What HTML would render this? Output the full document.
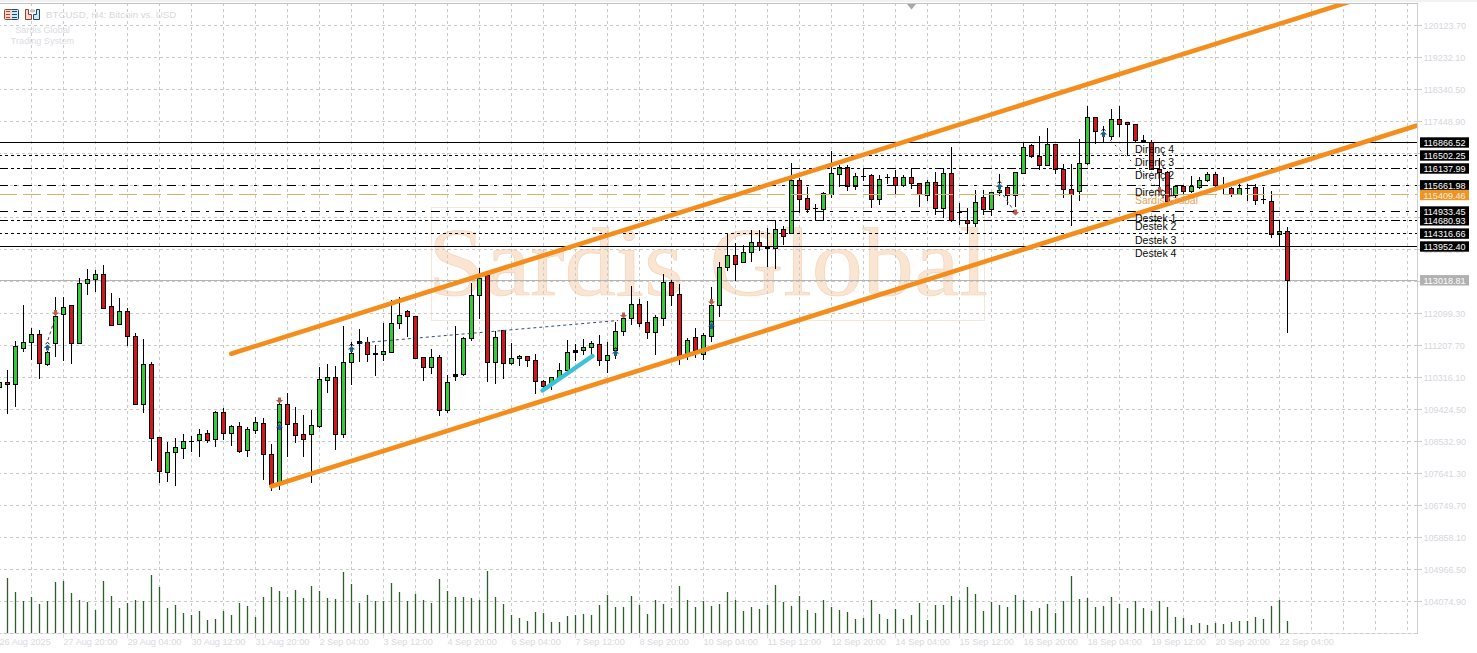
<!DOCTYPE html>
<html><head><meta charset="utf-8"><title>BTCUSD H4</title>
<style>html,body{margin:0;padding:0;background:#fff;width:1477px;height:653px;overflow:hidden;position:relative}</style>
</head><body>
<svg width="1477" height="653" viewBox="0 0 1477 653" style="position:absolute;left:0;top:0"><rect x="0" y="0" width="1477" height="653" fill="#ffffff"/><rect x="0" y="0" width="1477" height="2" fill="#f2f2f2"/><rect x="431.5" y="207.5" width="553" height="113" fill="none" stroke="#f3e6dc" stroke-width="1" shape-rendering="crispEdges"/><text transform="translate(428,294.5) scale(1.055,1)" x="0" y="0" font-family="Liberation Serif" font-size="97" fill="#fae5d3" stroke="#f5d2b4" stroke-width="0.6">Sardis Global</text><path d="M0 633.5H1417" stroke="#e6e6e6" stroke-width="1" shape-rendering="crispEdges"/><path d="M31.5 4V633 M63.5 4V633 M95.5 4V633 M127.5 4V633 M159.5 4V633 M191.5 4V633 M223.5 4V633 M255.5 4V633 M287.5 4V633 M319.5 4V633 M351.5 4V633 M383.5 4V633 M415.5 4V633 M447.5 4V633 M479.5 4V633 M511.5 4V633 M543.5 4V633 M575.5 4V633 M607.5 4V633 M639.5 4V633 M671.5 4V633 M703.5 4V633 M735.5 4V633 M767.5 4V633 M799.5 4V633 M831.5 4V633 M863.5 4V633 M895.5 4V633 M927.5 4V633 M959.5 4V633 M991.5 4V633 M1023.5 4V633 M1055.5 4V633 M1087.5 4V633 M1119.5 4V633 M1151.5 4V633 M1183.5 4V633 M1215.5 4V633 M1247.5 4V633 M1279.5 4V633 M1311.5 4V633 M1343.5 4V633 M1375.5 4V633 M1407.5 4V633" stroke="#cacaca" stroke-width="1" stroke-dasharray="3 3" stroke-dashoffset="1" fill="none" shape-rendering="crispEdges"/><path d="M0 25.5H1417 M0 57.5H1417 M0 89.5H1417 M0 121.5H1417 M0 153.5H1417 M0 185.5H1417 M0 217.5H1417 M0 249.5H1417 M0 281.5H1417 M0 313.5H1417 M0 345.5H1417 M0 377.5H1417 M0 409.5H1417 M0 441.5H1417 M0 473.5H1417 M0 505.5H1417 M0 537.5H1417 M0 569.5H1417 M0 601.5H1417 M0 633.5H1417" stroke="#cacaca" stroke-width="1" stroke-dasharray="3 3" stroke-dashoffset="2" fill="none" shape-rendering="crispEdges"/><path d="M0 3.5H1417.5V633.5" stroke="#d0d0d0" stroke-width="1" fill="none" shape-rendering="crispEdges"/><path d="M0 280.5H1417" stroke="#b4b4b4" stroke-width="1" shape-rendering="crispEdges"/><path d="M7.5 578V633 M15.5 592V633 M23.5 601V633 M31.5 597V633 M39.5 604V633 M47.5 601V633 M55.5 582V633 M63.5 581V633 M71.5 593V633 M79.5 600V633 M87.5 602V633 M95.5 610V633 M103.5 581V633 M111.5 596V633 M119.5 608V633 M127.5 603V633 M135.5 600V633 M143.5 601V633 M151.5 575V633 M159.5 587V633 M167.5 608V633 M175.5 605V633 M183.5 613V633 M191.5 615V633 M199.5 611V633 M207.5 620V633 M215.5 619V633 M223.5 611V633 M231.5 615V633 M239.5 603V633 M247.5 606V633 M255.5 617V633 M263.5 597V633 M271.5 587V633 M279.5 591V633 M287.5 597V633 M295.5 590V633 M303.5 598V633 M311.5 586V633 M319.5 591V633 M327.5 598V633 M335.5 599V633 M343.5 572V633 M351.5 584V633 M359.5 603V633 M367.5 595V633 M375.5 601V633 M383.5 601V633 M391.5 583V633 M399.5 592V633 M407.5 601V633 M415.5 594V633 M423.5 600V633 M431.5 603V633 M439.5 579V633 M447.5 591V633 M455.5 597V633 M463.5 597V633 M471.5 598V633 M479.5 600V633 M487.5 571V633 M495.5 597V633 M503.5 604V633 M511.5 615V633 M519.5 618V633 M527.5 621V633 M535.5 612V633 M543.5 613V633 M551.5 622V633 M559.5 622V633 M567.5 616V633 M575.5 615V633 M583.5 614V633 M591.5 615V633 M599.5 605V633 M607.5 595V633 M615.5 607V633 M623.5 607V633 M631.5 596V633 M639.5 605V633 M647.5 614V633 M655.5 600V633 M663.5 604V633 M671.5 608V633 M679.5 586V633 M687.5 600V633 M695.5 607V633 M703.5 601V633 M711.5 606V633 M719.5 604V633 M727.5 592V633 M735.5 600V633 M743.5 611V633 M751.5 607V633 M759.5 609V633 M767.5 605V633 M775.5 585V633 M783.5 602V633 M791.5 606V633 M799.5 596V633 M807.5 610V633 M815.5 613V633 M823.5 600V633 M831.5 607V633 M839.5 610V633 M847.5 612V633 M855.5 619V633 M863.5 618V633 M871.5 600V633 M879.5 614V633 M887.5 619V633 M895.5 609V633 M903.5 619V633 M911.5 615V633 M919.5 603V633 M927.5 620V633 M935.5 605V633 M943.5 605V633 M951.5 596V633 M959.5 600V633 M967.5 587V633 M975.5 594V633 M983.5 611V633 M991.5 602V633 M999.5 605V633 M1007.5 607V633 M1015.5 595V633 M1023.5 600V633 M1031.5 611V633 M1039.5 608V633 M1047.5 604V633 M1055.5 613V633 M1063.5 601V633 M1071.5 576V633 M1079.5 599V633 M1087.5 598V633 M1095.5 607V633 M1103.5 606V633 M1111.5 597V633 M1119.5 604V633 M1127.5 608V633 M1135.5 601V633 M1143.5 608V633 M1151.5 611V633 M1159.5 601V633 M1167.5 607V633 M1175.5 617V633 M1183.5 618V633 M1191.5 625V633 M1199.5 623V633 M1207.5 625V633 M1215.5 623V633 M1223.5 624V633 M1231.5 622V633 M1239.5 621V633 M1247.5 621V633 M1255.5 617V633 M1263.5 619V633 M1271.5 606V633 M1279.5 600V633 M1287.5 621V633" stroke="#2a5e2a" stroke-width="1.3" fill="none"/><g shape-rendering="crispEdges"><rect x="-1" y="378" width="1" height="15" fill="#000"/><rect x="-3" y="382" width="5" height="6" fill="#000"/><rect x="-2" y="383" width="3" height="4" fill="#32cd32"/><rect x="7" y="370" width="1" height="44" fill="#000"/><rect x="5" y="382" width="5" height="3" fill="#000"/><rect x="6" y="383" width="3" height="1" fill="#d4161c"/><rect x="15" y="341" width="1" height="66" fill="#000"/><rect x="13" y="346" width="5" height="39" fill="#000"/><rect x="14" y="347" width="3" height="37" fill="#32cd32"/><rect x="23" y="305" width="1" height="47" fill="#000"/><rect x="21" y="342" width="5" height="7" fill="#000"/><rect x="22" y="343" width="3" height="5" fill="#32cd32"/><rect x="31" y="328" width="1" height="32" fill="#000"/><rect x="29" y="334" width="5" height="9" fill="#000"/><rect x="30" y="335" width="3" height="7" fill="#32cd32"/><rect x="39" y="330" width="1" height="49" fill="#000"/><rect x="37" y="334" width="5" height="30" fill="#000"/><rect x="38" y="335" width="3" height="28" fill="#d4161c"/><rect x="47" y="351" width="1" height="15" fill="#000"/><rect x="45" y="352" width="5" height="13" fill="#000"/><rect x="46" y="353" width="3" height="11" fill="#32cd32"/><rect x="55" y="297" width="1" height="60" fill="#000"/><rect x="53" y="316" width="5" height="28" fill="#000"/><rect x="54" y="317" width="3" height="26" fill="#32cd32"/><rect x="63" y="297" width="1" height="64" fill="#000"/><rect x="61" y="307" width="5" height="8" fill="#000"/><rect x="62" y="308" width="3" height="6" fill="#32cd32"/><rect x="71" y="305" width="1" height="59" fill="#000"/><rect x="69" y="305" width="5" height="39" fill="#000"/><rect x="70" y="306" width="3" height="37" fill="#d4161c"/><rect x="79" y="278" width="1" height="66" fill="#000"/><rect x="77" y="283" width="5" height="61" fill="#000"/><rect x="78" y="284" width="3" height="59" fill="#32cd32"/><rect x="87" y="269" width="1" height="26" fill="#000"/><rect x="85" y="279" width="5" height="5" fill="#000"/><rect x="86" y="280" width="3" height="3" fill="#32cd32"/><rect x="95" y="270" width="1" height="22" fill="#000"/><rect x="93" y="274" width="5" height="6" fill="#000"/><rect x="94" y="275" width="3" height="4" fill="#32cd32"/><rect x="103" y="265" width="1" height="44" fill="#000"/><rect x="101" y="274" width="5" height="35" fill="#000"/><rect x="102" y="275" width="3" height="33" fill="#d4161c"/><rect x="111" y="293" width="1" height="33" fill="#000"/><rect x="109" y="306" width="5" height="20" fill="#000"/><rect x="110" y="307" width="3" height="18" fill="#d4161c"/><rect x="119" y="298" width="1" height="27" fill="#000"/><rect x="117" y="311" width="5" height="14" fill="#000"/><rect x="118" y="312" width="3" height="12" fill="#32cd32"/><rect x="127" y="308" width="1" height="38" fill="#000"/><rect x="125" y="311" width="5" height="26" fill="#000"/><rect x="126" y="312" width="3" height="24" fill="#d4161c"/><rect x="135" y="333" width="1" height="72" fill="#000"/><rect x="133" y="336" width="5" height="69" fill="#000"/><rect x="134" y="337" width="3" height="67" fill="#d4161c"/><rect x="143" y="339" width="1" height="74" fill="#000"/><rect x="141" y="364" width="5" height="41" fill="#000"/><rect x="142" y="365" width="3" height="39" fill="#32cd32"/><rect x="151" y="362" width="1" height="99" fill="#000"/><rect x="149" y="364" width="5" height="75" fill="#000"/><rect x="150" y="365" width="3" height="73" fill="#d4161c"/><rect x="159" y="437" width="1" height="46" fill="#000"/><rect x="157" y="437" width="5" height="35" fill="#000"/><rect x="158" y="438" width="3" height="33" fill="#d4161c"/><rect x="167" y="442" width="1" height="40" fill="#000"/><rect x="165" y="452" width="5" height="21" fill="#000"/><rect x="166" y="453" width="3" height="19" fill="#32cd32"/><rect x="175" y="438" width="1" height="48" fill="#000"/><rect x="173" y="447" width="5" height="6" fill="#000"/><rect x="174" y="448" width="3" height="4" fill="#32cd32"/><rect x="183" y="434" width="1" height="25" fill="#000"/><rect x="181" y="441" width="5" height="8" fill="#000"/><rect x="182" y="442" width="3" height="6" fill="#32cd32"/><rect x="191" y="436" width="1" height="16" fill="#000"/><rect x="189" y="441" width="5" height="1" fill="#000"/><rect x="199" y="429" width="1" height="28" fill="#000"/><rect x="197" y="434" width="5" height="7" fill="#000"/><rect x="198" y="435" width="3" height="5" fill="#32cd32"/><rect x="207" y="430" width="1" height="13" fill="#000"/><rect x="205" y="433" width="5" height="8" fill="#000"/><rect x="206" y="434" width="3" height="6" fill="#d4161c"/><rect x="215" y="411" width="1" height="36" fill="#000"/><rect x="213" y="412" width="5" height="28" fill="#000"/><rect x="214" y="413" width="3" height="26" fill="#32cd32"/><rect x="223" y="408" width="1" height="32" fill="#000"/><rect x="221" y="412" width="5" height="22" fill="#000"/><rect x="222" y="413" width="3" height="20" fill="#d4161c"/><rect x="231" y="425" width="1" height="21" fill="#000"/><rect x="229" y="426" width="5" height="8" fill="#000"/><rect x="230" y="427" width="3" height="6" fill="#32cd32"/><rect x="239" y="422" width="1" height="31" fill="#000"/><rect x="237" y="426" width="5" height="26" fill="#000"/><rect x="238" y="427" width="3" height="24" fill="#d4161c"/><rect x="247" y="427" width="1" height="30" fill="#000"/><rect x="245" y="429" width="5" height="22" fill="#000"/><rect x="246" y="430" width="3" height="20" fill="#32cd32"/><rect x="255" y="417" width="1" height="17" fill="#000"/><rect x="253" y="422" width="5" height="9" fill="#000"/><rect x="254" y="423" width="3" height="7" fill="#32cd32"/><rect x="263" y="418" width="1" height="62" fill="#000"/><rect x="261" y="423" width="5" height="32" fill="#000"/><rect x="262" y="424" width="3" height="30" fill="#d4161c"/><rect x="271" y="444" width="1" height="47" fill="#000"/><rect x="269" y="454" width="5" height="31" fill="#000"/><rect x="270" y="455" width="3" height="29" fill="#d4161c"/><rect x="279" y="398" width="1" height="92" fill="#000"/><rect x="277" y="404" width="5" height="79" fill="#000"/><rect x="278" y="405" width="3" height="77" fill="#32cd32"/><rect x="287" y="393" width="1" height="64" fill="#000"/><rect x="285" y="404" width="5" height="21" fill="#000"/><rect x="286" y="405" width="3" height="19" fill="#d4161c"/><rect x="295" y="407" width="1" height="36" fill="#000"/><rect x="293" y="423" width="5" height="13" fill="#000"/><rect x="294" y="424" width="3" height="11" fill="#d4161c"/><rect x="303" y="415" width="1" height="42" fill="#000"/><rect x="301" y="434" width="5" height="6" fill="#000"/><rect x="302" y="435" width="3" height="4" fill="#d4161c"/><rect x="311" y="410" width="1" height="73" fill="#000"/><rect x="309" y="425" width="5" height="10" fill="#000"/><rect x="310" y="426" width="3" height="8" fill="#32cd32"/><rect x="319" y="367" width="1" height="61" fill="#000"/><rect x="317" y="379" width="5" height="48" fill="#000"/><rect x="318" y="380" width="3" height="46" fill="#32cd32"/><rect x="327" y="364" width="1" height="29" fill="#000"/><rect x="325" y="377" width="5" height="4" fill="#000"/><rect x="326" y="378" width="3" height="2" fill="#32cd32"/><rect x="335" y="366" width="1" height="84" fill="#000"/><rect x="333" y="377" width="5" height="58" fill="#000"/><rect x="334" y="378" width="3" height="56" fill="#d4161c"/><rect x="343" y="326" width="1" height="112" fill="#000"/><rect x="341" y="362" width="5" height="73" fill="#000"/><rect x="342" y="363" width="3" height="71" fill="#32cd32"/><rect x="351" y="342" width="1" height="43" fill="#000"/><rect x="349" y="353" width="5" height="10" fill="#000"/><rect x="350" y="354" width="3" height="8" fill="#32cd32"/><rect x="359" y="329" width="1" height="33" fill="#000"/><rect x="357" y="341" width="5" height="3" fill="#000"/><rect x="367" y="337" width="1" height="25" fill="#000"/><rect x="365" y="342" width="5" height="13" fill="#000"/><rect x="366" y="343" width="3" height="11" fill="#d4161c"/><rect x="375" y="345" width="1" height="31" fill="#000"/><rect x="373" y="353" width="5" height="2" fill="#000"/><rect x="383" y="323" width="1" height="38" fill="#000"/><rect x="381" y="351" width="5" height="4" fill="#000"/><rect x="382" y="352" width="3" height="2" fill="#32cd32"/><rect x="391" y="300" width="1" height="53" fill="#000"/><rect x="389" y="323" width="5" height="30" fill="#000"/><rect x="390" y="324" width="3" height="28" fill="#32cd32"/><rect x="399" y="297" width="1" height="32" fill="#000"/><rect x="397" y="315" width="5" height="9" fill="#000"/><rect x="398" y="316" width="3" height="7" fill="#32cd32"/><rect x="407" y="310" width="1" height="27" fill="#000"/><rect x="405" y="311" width="5" height="6" fill="#000"/><rect x="406" y="312" width="3" height="4" fill="#d4161c"/><rect x="415" y="316" width="1" height="43" fill="#000"/><rect x="413" y="316" width="5" height="43" fill="#000"/><rect x="414" y="317" width="3" height="41" fill="#d4161c"/><rect x="423" y="357" width="1" height="24" fill="#000"/><rect x="421" y="357" width="5" height="11" fill="#000"/><rect x="422" y="358" width="3" height="9" fill="#d4161c"/><rect x="431" y="349" width="1" height="25" fill="#000"/><rect x="429" y="357" width="5" height="11" fill="#000"/><rect x="430" y="358" width="3" height="9" fill="#32cd32"/><rect x="439" y="355" width="1" height="61" fill="#000"/><rect x="437" y="357" width="5" height="54" fill="#000"/><rect x="438" y="358" width="3" height="52" fill="#d4161c"/><rect x="447" y="375" width="1" height="38" fill="#000"/><rect x="445" y="382" width="5" height="29" fill="#000"/><rect x="446" y="383" width="3" height="27" fill="#32cd32"/><rect x="455" y="326" width="1" height="55" fill="#000"/><rect x="453" y="374" width="5" height="3" fill="#000"/><rect x="463" y="337" width="1" height="39" fill="#000"/><rect x="461" y="338" width="5" height="37" fill="#000"/><rect x="462" y="339" width="3" height="35" fill="#32cd32"/><rect x="471" y="283" width="1" height="58" fill="#000"/><rect x="469" y="295" width="5" height="44" fill="#000"/><rect x="470" y="296" width="3" height="42" fill="#32cd32"/><rect x="479" y="268" width="1" height="51" fill="#000"/><rect x="477" y="278" width="5" height="18" fill="#000"/><rect x="478" y="279" width="3" height="16" fill="#32cd32"/><rect x="487" y="274" width="1" height="108" fill="#000"/><rect x="485" y="275" width="5" height="88" fill="#000"/><rect x="486" y="276" width="3" height="86" fill="#d4161c"/><rect x="495" y="331" width="1" height="53" fill="#000"/><rect x="493" y="337" width="5" height="26" fill="#000"/><rect x="494" y="338" width="3" height="24" fill="#32cd32"/><rect x="503" y="330" width="1" height="49" fill="#000"/><rect x="501" y="330" width="5" height="34" fill="#000"/><rect x="502" y="331" width="3" height="32" fill="#d4161c"/><rect x="511" y="343" width="1" height="22" fill="#000"/><rect x="509" y="358" width="5" height="6" fill="#000"/><rect x="510" y="359" width="3" height="4" fill="#32cd32"/><rect x="519" y="355" width="1" height="11" fill="#000"/><rect x="517" y="356" width="5" height="3" fill="#000"/><rect x="518" y="357" width="3" height="1" fill="#32cd32"/><rect x="527" y="356" width="1" height="11" fill="#000"/><rect x="525" y="356" width="5" height="5" fill="#000"/><rect x="526" y="357" width="3" height="3" fill="#d4161c"/><rect x="535" y="354" width="1" height="40" fill="#000"/><rect x="533" y="360" width="5" height="22" fill="#000"/><rect x="534" y="361" width="3" height="20" fill="#d4161c"/><rect x="543" y="380" width="1" height="8" fill="#000"/><rect x="541" y="381" width="5" height="6" fill="#000"/><rect x="542" y="382" width="3" height="4" fill="#d4161c"/><rect x="551" y="377" width="1" height="13" fill="#000"/><rect x="549" y="377" width="5" height="7" fill="#000"/><rect x="550" y="378" width="3" height="5" fill="#32cd32"/><rect x="559" y="363" width="1" height="15" fill="#000"/><rect x="557" y="370" width="5" height="8" fill="#000"/><rect x="558" y="371" width="3" height="6" fill="#32cd32"/><rect x="567" y="340" width="1" height="31" fill="#000"/><rect x="565" y="352" width="5" height="19" fill="#000"/><rect x="566" y="353" width="3" height="17" fill="#32cd32"/><rect x="575" y="344" width="1" height="17" fill="#000"/><rect x="573" y="350" width="5" height="3" fill="#000"/><rect x="583" y="339" width="1" height="16" fill="#000"/><rect x="581" y="347" width="5" height="4" fill="#000"/><rect x="582" y="348" width="3" height="2" fill="#32cd32"/><rect x="591" y="341" width="1" height="14" fill="#000"/><rect x="589" y="343" width="5" height="5" fill="#000"/><rect x="590" y="344" width="3" height="3" fill="#32cd32"/><rect x="599" y="335" width="1" height="31" fill="#000"/><rect x="597" y="344" width="5" height="17" fill="#000"/><rect x="598" y="345" width="3" height="15" fill="#d4161c"/><rect x="607" y="342" width="1" height="31" fill="#000"/><rect x="605" y="355" width="5" height="6" fill="#000"/><rect x="606" y="356" width="3" height="4" fill="#32cd32"/><rect x="615" y="322" width="1" height="37" fill="#000"/><rect x="613" y="331" width="5" height="20" fill="#000"/><rect x="614" y="332" width="3" height="18" fill="#32cd32"/><rect x="623" y="318" width="1" height="18" fill="#000"/><rect x="621" y="318" width="5" height="14" fill="#000"/><rect x="622" y="319" width="3" height="12" fill="#32cd32"/><rect x="631" y="286" width="1" height="39" fill="#000"/><rect x="629" y="304" width="5" height="15" fill="#000"/><rect x="630" y="305" width="3" height="13" fill="#32cd32"/><rect x="639" y="299" width="1" height="28" fill="#000"/><rect x="637" y="304" width="5" height="20" fill="#000"/><rect x="638" y="305" width="3" height="18" fill="#d4161c"/><rect x="647" y="301" width="1" height="38" fill="#000"/><rect x="645" y="322" width="5" height="11" fill="#000"/><rect x="646" y="323" width="3" height="9" fill="#d4161c"/><rect x="655" y="315" width="1" height="40" fill="#000"/><rect x="653" y="317" width="5" height="16" fill="#000"/><rect x="654" y="318" width="3" height="14" fill="#32cd32"/><rect x="663" y="274" width="1" height="52" fill="#000"/><rect x="661" y="282" width="5" height="37" fill="#000"/><rect x="662" y="283" width="3" height="35" fill="#32cd32"/><rect x="671" y="280" width="1" height="26" fill="#000"/><rect x="669" y="282" width="5" height="14" fill="#000"/><rect x="670" y="283" width="3" height="12" fill="#d4161c"/><rect x="679" y="284" width="1" height="81" fill="#000"/><rect x="677" y="294" width="5" height="63" fill="#000"/><rect x="678" y="295" width="3" height="61" fill="#d4161c"/><rect x="687" y="338" width="1" height="22" fill="#000"/><rect x="685" y="340" width="5" height="14" fill="#000"/><rect x="686" y="341" width="3" height="12" fill="#32cd32"/><rect x="695" y="328" width="1" height="30" fill="#000"/><rect x="693" y="337" width="5" height="14" fill="#000"/><rect x="694" y="338" width="3" height="12" fill="#d4161c"/><rect x="703" y="333" width="1" height="27" fill="#000"/><rect x="701" y="335" width="5" height="20" fill="#000"/><rect x="702" y="336" width="3" height="18" fill="#32cd32"/><rect x="711" y="287" width="1" height="55" fill="#000"/><rect x="709" y="305" width="5" height="32" fill="#000"/><rect x="710" y="306" width="3" height="30" fill="#32cd32"/><rect x="719" y="262" width="1" height="55" fill="#000"/><rect x="717" y="267" width="5" height="39" fill="#000"/><rect x="718" y="268" width="3" height="37" fill="#32cd32"/><rect x="727" y="234" width="1" height="37" fill="#000"/><rect x="725" y="255" width="5" height="13" fill="#000"/><rect x="726" y="256" width="3" height="11" fill="#32cd32"/><rect x="735" y="243" width="1" height="38" fill="#000"/><rect x="733" y="255" width="5" height="10" fill="#000"/><rect x="734" y="256" width="3" height="8" fill="#d4161c"/><rect x="743" y="245" width="1" height="18" fill="#000"/><rect x="741" y="252" width="5" height="11" fill="#000"/><rect x="742" y="253" width="3" height="9" fill="#32cd32"/><rect x="751" y="230" width="1" height="32" fill="#000"/><rect x="749" y="242" width="5" height="11" fill="#000"/><rect x="750" y="243" width="3" height="9" fill="#32cd32"/><rect x="759" y="230" width="1" height="21" fill="#000"/><rect x="757" y="242" width="5" height="5" fill="#000"/><rect x="758" y="243" width="3" height="3" fill="#d4161c"/><rect x="767" y="228" width="1" height="39" fill="#000"/><rect x="765" y="246" width="5" height="3" fill="#000"/><rect x="775" y="221" width="1" height="48" fill="#000"/><rect x="773" y="229" width="5" height="20" fill="#000"/><rect x="774" y="230" width="3" height="18" fill="#32cd32"/><rect x="783" y="226" width="1" height="19" fill="#000"/><rect x="781" y="229" width="5" height="8" fill="#000"/><rect x="782" y="230" width="3" height="6" fill="#d4161c"/><rect x="791" y="163" width="1" height="71" fill="#000"/><rect x="789" y="180" width="5" height="54" fill="#000"/><rect x="790" y="181" width="3" height="52" fill="#32cd32"/><rect x="799" y="178" width="1" height="35" fill="#000"/><rect x="797" y="180" width="5" height="20" fill="#000"/><rect x="798" y="181" width="3" height="18" fill="#d4161c"/><rect x="807" y="187" width="1" height="26" fill="#000"/><rect x="805" y="198" width="5" height="12" fill="#000"/><rect x="806" y="199" width="3" height="10" fill="#d4161c"/><rect x="815" y="204" width="1" height="17" fill="#000"/><rect x="813" y="208" width="5" height="1" fill="#000"/><rect x="823" y="192" width="1" height="28" fill="#000"/><rect x="821" y="193" width="5" height="17" fill="#000"/><rect x="822" y="194" width="3" height="15" fill="#32cd32"/><rect x="831" y="151" width="1" height="47" fill="#000"/><rect x="829" y="173" width="5" height="22" fill="#000"/><rect x="830" y="174" width="3" height="20" fill="#32cd32"/><rect x="839" y="165" width="1" height="22" fill="#000"/><rect x="837" y="167" width="5" height="8" fill="#000"/><rect x="838" y="168" width="3" height="6" fill="#32cd32"/><rect x="847" y="165" width="1" height="26" fill="#000"/><rect x="845" y="167" width="5" height="20" fill="#000"/><rect x="846" y="168" width="3" height="18" fill="#d4161c"/><rect x="855" y="173" width="1" height="17" fill="#000"/><rect x="853" y="176" width="5" height="11" fill="#000"/><rect x="854" y="177" width="3" height="9" fill="#32cd32"/><rect x="863" y="169" width="1" height="12" fill="#000"/><rect x="861" y="176" width="5" height="1" fill="#000"/><rect x="871" y="174" width="1" height="34" fill="#000"/><rect x="869" y="175" width="5" height="25" fill="#000"/><rect x="870" y="176" width="3" height="23" fill="#d4161c"/><rect x="879" y="175" width="1" height="30" fill="#000"/><rect x="877" y="179" width="5" height="21" fill="#000"/><rect x="878" y="180" width="3" height="19" fill="#32cd32"/><rect x="887" y="174" width="1" height="10" fill="#000"/><rect x="885" y="177" width="5" height="1" fill="#000"/><rect x="895" y="170" width="1" height="25" fill="#000"/><rect x="893" y="177" width="5" height="9" fill="#000"/><rect x="894" y="178" width="3" height="7" fill="#d4161c"/><rect x="903" y="175" width="1" height="12" fill="#000"/><rect x="901" y="177" width="5" height="9" fill="#000"/><rect x="902" y="178" width="3" height="7" fill="#32cd32"/><rect x="911" y="169" width="1" height="20" fill="#000"/><rect x="909" y="177" width="5" height="7" fill="#000"/><rect x="910" y="178" width="3" height="5" fill="#d4161c"/><rect x="919" y="183" width="1" height="24" fill="#000"/><rect x="917" y="183" width="5" height="12" fill="#000"/><rect x="918" y="184" width="3" height="10" fill="#d4161c"/><rect x="927" y="180" width="1" height="21" fill="#000"/><rect x="925" y="182" width="5" height="14" fill="#000"/><rect x="926" y="183" width="3" height="12" fill="#32cd32"/><rect x="935" y="172" width="1" height="43" fill="#000"/><rect x="933" y="182" width="5" height="27" fill="#000"/><rect x="934" y="183" width="3" height="25" fill="#d4161c"/><rect x="943" y="169" width="1" height="49" fill="#000"/><rect x="941" y="173" width="5" height="36" fill="#000"/><rect x="942" y="174" width="3" height="34" fill="#32cd32"/><rect x="951" y="147" width="1" height="75" fill="#000"/><rect x="949" y="173" width="5" height="48" fill="#000"/><rect x="950" y="174" width="3" height="46" fill="#d4161c"/><rect x="959" y="203" width="1" height="22" fill="#000"/><rect x="957" y="212" width="5" height="1" fill="#000"/><rect x="967" y="208" width="1" height="26" fill="#000"/><rect x="965" y="220" width="5" height="4" fill="#000"/><rect x="966" y="221" width="3" height="2" fill="#d4161c"/><rect x="975" y="190" width="1" height="37" fill="#000"/><rect x="973" y="202" width="5" height="22" fill="#000"/><rect x="974" y="203" width="3" height="20" fill="#32cd32"/><rect x="983" y="190" width="1" height="25" fill="#000"/><rect x="981" y="197" width="5" height="13" fill="#000"/><rect x="982" y="198" width="3" height="11" fill="#d4161c"/><rect x="991" y="192" width="1" height="24" fill="#000"/><rect x="989" y="192" width="5" height="18" fill="#000"/><rect x="990" y="193" width="3" height="16" fill="#32cd32"/><rect x="999" y="174" width="1" height="22" fill="#000"/><rect x="997" y="190" width="5" height="3" fill="#000"/><rect x="998" y="191" width="3" height="1" fill="#32cd32"/><rect x="1007" y="185" width="1" height="20" fill="#000"/><rect x="1005" y="187" width="5" height="9" fill="#000"/><rect x="1006" y="188" width="3" height="7" fill="#d4161c"/><rect x="1015" y="172" width="1" height="35" fill="#000"/><rect x="1013" y="172" width="5" height="24" fill="#000"/><rect x="1014" y="173" width="3" height="22" fill="#32cd32"/><rect x="1023" y="142" width="1" height="32" fill="#000"/><rect x="1021" y="147" width="5" height="27" fill="#000"/><rect x="1022" y="148" width="3" height="25" fill="#32cd32"/><rect x="1031" y="144" width="1" height="14" fill="#000"/><rect x="1029" y="145" width="5" height="12" fill="#000"/><rect x="1030" y="146" width="3" height="10" fill="#d4161c"/><rect x="1039" y="136" width="1" height="34" fill="#000"/><rect x="1037" y="156" width="5" height="10" fill="#000"/><rect x="1038" y="157" width="3" height="8" fill="#d4161c"/><rect x="1047" y="128" width="1" height="38" fill="#000"/><rect x="1045" y="144" width="5" height="22" fill="#000"/><rect x="1046" y="145" width="3" height="20" fill="#32cd32"/><rect x="1055" y="144" width="1" height="30" fill="#000"/><rect x="1053" y="144" width="5" height="26" fill="#000"/><rect x="1054" y="145" width="3" height="24" fill="#d4161c"/><rect x="1063" y="164" width="1" height="34" fill="#000"/><rect x="1061" y="169" width="5" height="21" fill="#000"/><rect x="1062" y="170" width="3" height="19" fill="#d4161c"/><rect x="1071" y="164" width="1" height="62" fill="#000"/><rect x="1069" y="189" width="5" height="6" fill="#000"/><rect x="1070" y="190" width="3" height="4" fill="#d4161c"/><rect x="1079" y="139" width="1" height="62" fill="#000"/><rect x="1077" y="163" width="5" height="29" fill="#000"/><rect x="1078" y="164" width="3" height="27" fill="#32cd32"/><rect x="1087" y="106" width="1" height="59" fill="#000"/><rect x="1085" y="117" width="5" height="47" fill="#000"/><rect x="1086" y="118" width="3" height="45" fill="#32cd32"/><rect x="1095" y="117" width="1" height="27" fill="#000"/><rect x="1093" y="117" width="5" height="15" fill="#000"/><rect x="1094" y="118" width="3" height="13" fill="#d4161c"/><rect x="1103" y="126" width="1" height="16" fill="#000"/><rect x="1101" y="133" width="5" height="1" fill="#000"/><rect x="1111" y="109" width="1" height="31" fill="#000"/><rect x="1109" y="119" width="5" height="18" fill="#000"/><rect x="1110" y="120" width="3" height="16" fill="#32cd32"/><rect x="1119" y="106" width="1" height="31" fill="#000"/><rect x="1117" y="119" width="5" height="6" fill="#000"/><rect x="1118" y="120" width="3" height="4" fill="#d4161c"/><rect x="1127" y="122" width="1" height="34" fill="#000"/><rect x="1125" y="122" width="5" height="3" fill="#000"/><rect x="1126" y="123" width="3" height="1" fill="#d4161c"/><rect x="1135" y="124" width="1" height="18" fill="#000"/><rect x="1133" y="124" width="5" height="17" fill="#000"/><rect x="1134" y="125" width="3" height="15" fill="#d4161c"/><rect x="1143" y="135" width="1" height="8" fill="#000"/><rect x="1141" y="140" width="5" height="3" fill="#000"/><rect x="1151" y="140" width="1" height="30" fill="#000"/><rect x="1149" y="142" width="5" height="28" fill="#000"/><rect x="1150" y="143" width="3" height="26" fill="#d4161c"/><rect x="1159" y="158" width="1" height="29" fill="#000"/><rect x="1157" y="169" width="5" height="4" fill="#000"/><rect x="1158" y="170" width="3" height="2" fill="#d4161c"/><rect x="1167" y="171" width="1" height="31" fill="#000"/><rect x="1165" y="172" width="5" height="30" fill="#000"/><rect x="1166" y="173" width="3" height="28" fill="#d4161c"/><rect x="1175" y="185" width="1" height="13" fill="#000"/><rect x="1173" y="186" width="5" height="10" fill="#000"/><rect x="1174" y="187" width="3" height="8" fill="#32cd32"/><rect x="1183" y="185" width="1" height="10" fill="#000"/><rect x="1181" y="186" width="5" height="6" fill="#000"/><rect x="1182" y="187" width="3" height="4" fill="#d4161c"/><rect x="1191" y="176" width="1" height="17" fill="#000"/><rect x="1189" y="186" width="5" height="6" fill="#000"/><rect x="1190" y="187" width="3" height="4" fill="#32cd32"/><rect x="1199" y="177" width="1" height="12" fill="#000"/><rect x="1197" y="180" width="5" height="8" fill="#000"/><rect x="1198" y="181" width="3" height="6" fill="#32cd32"/><rect x="1207" y="172" width="1" height="10" fill="#000"/><rect x="1205" y="174" width="5" height="7" fill="#000"/><rect x="1206" y="175" width="3" height="5" fill="#32cd32"/><rect x="1215" y="172" width="1" height="15" fill="#000"/><rect x="1213" y="174" width="5" height="12" fill="#000"/><rect x="1214" y="175" width="3" height="10" fill="#d4161c"/><rect x="1223" y="177" width="1" height="17" fill="#000"/><rect x="1221" y="185" width="5" height="1" fill="#000"/><rect x="1231" y="187" width="1" height="10" fill="#000"/><rect x="1229" y="188" width="5" height="7" fill="#000"/><rect x="1230" y="189" width="3" height="5" fill="#d4161c"/><rect x="1239" y="184" width="1" height="11" fill="#000"/><rect x="1237" y="188" width="5" height="7" fill="#000"/><rect x="1238" y="189" width="3" height="5" fill="#32cd32"/><rect x="1247" y="184" width="1" height="17" fill="#000"/><rect x="1245" y="188" width="5" height="1" fill="#000"/><rect x="1255" y="184" width="1" height="21" fill="#000"/><rect x="1253" y="187" width="5" height="14" fill="#000"/><rect x="1254" y="188" width="3" height="12" fill="#d4161c"/><rect x="1263" y="187" width="1" height="17" fill="#000"/><rect x="1261" y="199" width="5" height="1" fill="#000"/><rect x="1271" y="191" width="1" height="47" fill="#000"/><rect x="1269" y="201" width="5" height="34" fill="#000"/><rect x="1270" y="202" width="3" height="32" fill="#d4161c"/><rect x="1279" y="220" width="1" height="27" fill="#000"/><rect x="1277" y="231" width="5" height="4" fill="#000"/><rect x="1278" y="232" width="3" height="2" fill="#32cd32"/><rect x="1287" y="227" width="1" height="106" fill="#000"/><rect x="1285" y="231" width="5" height="50" fill="#000"/><rect x="1286" y="232" width="3" height="48" fill="#d4161c"/></g><path d="M0 142.5H1417" stroke="#000" stroke-width="1" shape-rendering="crispEdges"/><path d="M0 155.5H1417" stroke="#000" stroke-width="1" stroke-dasharray="3 3" stroke-dashoffset="1" shape-rendering="crispEdges"/><path d="M0 168.5H1417" stroke="#000" stroke-width="1" stroke-dasharray="9 3 3 3 3 3" stroke-dashoffset="1" shape-rendering="crispEdges"/><path d="M0 185.5H1417" stroke="#000" stroke-width="1" stroke-dasharray="9 6 3 6" stroke-dashoffset="1" shape-rendering="crispEdges"/><path d="M0 194.5H1417" stroke="#dcb064" stroke-width="1" stroke-dasharray="18 6" stroke-dashoffset="1" shape-rendering="crispEdges"/><path d="M0 211.5H1417" stroke="#000" stroke-width="1" stroke-dasharray="9 6 3 6" stroke-dashoffset="1" shape-rendering="crispEdges"/><path d="M0 220.5H1417" stroke="#000" stroke-width="1" stroke-dasharray="9 3 3 3 3 3" stroke-dashoffset="1" shape-rendering="crispEdges"/><path d="M0 233.5H1417" stroke="#000" stroke-width="1" stroke-dasharray="3 3" stroke-dashoffset="1" shape-rendering="crispEdges"/><path d="M0 246.5H1417" stroke="#000" stroke-width="1" shape-rendering="crispEdges"/><g stroke="#2f4f78" stroke-width="1" stroke-dasharray="3 3" fill="none"><path d="M360 343L618 320.5"/><path d="M48 340L55 318"/><path d="M1000 190L1014 211"/><path d="M1110 140L1158 188" stroke-dasharray="2 5"/></g><g><path d="M45.5 344.0 Q47.5 341.0 49.5 344.0" fill="none" stroke="#000" stroke-width="1"/><path d="M47.5 344.5 L51.1 348.1 L49.0 348.1 L49.0 350.5 L46.0 350.5 L46.0 348.1 L43.9 348.1 Z" fill="#1f5f8a"/><path d="M54.0 310 L57.0 310 L57.0 312.5 L59.1 312.5 L55.5 316 L51.9 312.5 L54.0 312.5 Z" fill="#b95d44"/><path d="M278.0 397.5 L281.0 397.5 L281.0 400.0 L283.1 400.0 L279.5 403.5 L275.9 400.0 L278.0 400.0 Z" fill="#b95d44"/><path d="M277.5 423.5 Q279.5 420.5 281.5 423.5" fill="none" stroke="#000" stroke-width="1"/><path d="M279.5 424 L283.1 427.6 L281.0 427.6 L281.0 430 L278.0 430 L278.0 427.6 L275.9 427.6 Z" fill="#1f5f8a"/><path d="M349.5 345.5 Q351.5 342.5 353.5 345.5" fill="none" stroke="#000" stroke-width="1"/><path d="M351.5 346 L355.1 349.6 L353.0 349.6 L353.0 352 L350.0 352 L350.0 349.6 L347.9 349.6 Z" fill="#1f5f8a"/><path d="M613.5 349.5 Q615.5 346.5 617.5 349.5" fill="none" stroke="#000" stroke-width="1"/><path d="M615.5 350 L619.1 353.6 L617.0 353.6 L617.0 356 L614.0 356 L614.0 353.6 L611.9 353.6 Z" fill="#1f5f8a"/><path d="M622.0 312.5 L625.0 312.5 L625.0 315.0 L627.1 315.0 L623.5 318.5 L619.9 315.0 L622.0 315.0 Z" fill="#b95d44"/><path d="M710.0 299 L713.0 299 L713.0 301.5 L715.1 301.5 L711.5 305 L707.9 301.5 L710.0 301.5 Z" fill="#b95d44"/><path d="M709.5 322.5 Q711.5 319.5 713.5 322.5" fill="none" stroke="#000" stroke-width="1"/><path d="M711.5 323 L715.1 326.6 L713.0 326.6 L713.0 329 L710.0 329 L710.0 326.6 L707.9 326.6 Z" fill="#1f5f8a"/><path d="M997.5 183.0 Q999.5 180.0 1001.5 183.0" fill="none" stroke="#000" stroke-width="1"/><path d="M999.5 183.5 L1003.1 187.1 L1001.0 187.1 L1001.0 189.5 L998.0 189.5 L998.0 187.1 L995.9 187.1 Z" fill="#1f5f8a"/><path d="M1014.0 209.5 L1017.0 209.5 L1017.0 212.0 L1019.1 212.0 L1015.5 215.5 L1011.9 212.0 L1014.0 212.0 Z" fill="#b95d44"/><path d="M1101.5 130.5 Q1103.5 127.5 1105.5 130.5" fill="none" stroke="#000" stroke-width="1"/><path d="M1103.5 131 L1107.1 134.6 L1105.0 134.6 L1105.0 137 L1102.0 137 L1102.0 134.6 L1099.9 134.6 Z" fill="#1f5f8a"/><path d="M1158.0 187 L1161.0 187 L1161.0 189.5 L1163.1 189.5 L1159.5 193 L1155.9 189.5 L1158.0 189.5 Z" fill="#b95d44"/></g><defs><clipPath id="ca"><rect x="0" y="4" width="1417" height="629"/></clipPath></defs><g clip-path="url(#ca)" stroke="#f58d1c" stroke-width="4.6" stroke-linecap="round" fill="none"><path d="M231.3 353.7L1352 1.0"/><path d="M271.5 486.2L1416.3 125.7"/></g><path d="M542.5 390.5L592.5 356" stroke="#3cc2d6" stroke-width="4.5" stroke-linecap="round" fill="none"/><rect x="0" y="0" width="1477" height="3" fill="#ffffff"/><rect x="0" y="0" width="1477" height="2" fill="#f2f2f2"/><path d="M0 3.5H1417.5" stroke="#c4c4c4" stroke-width="1" shape-rendering="crispEdges"/><text x="1135" y="152.5" font-family="Liberation Sans" font-size="10.5" fill="#0a0a0a">Direnç 4</text><text x="1135" y="166" font-family="Liberation Sans" font-size="10.5" fill="#0a0a0a">Direnç 3</text><text x="1135" y="179" font-family="Liberation Sans" font-size="10.5" fill="#0a0a0a">Direnç 2</text><text x="1135" y="195.5" font-family="Liberation Sans" font-size="10.5" fill="#0a0a0a">Direnç 1</text><text x="1135" y="221.8" font-family="Liberation Sans" font-size="10.5" fill="#0a0a0a">Destek 1</text><text x="1135" y="230.4" font-family="Liberation Sans" font-size="10.5" fill="#0a0a0a">Destek 2</text><text x="1135" y="243.7" font-family="Liberation Sans" font-size="10.5" fill="#0a0a0a">Destek 3</text><text x="1135" y="256.6" font-family="Liberation Sans" font-size="10.5" fill="#0a0a0a">Destek 4</text><text x="1135" y="204" font-family="Liberation Sans" font-size="10.5" fill="#e9a257">Sardis Global</text><path d="M1418 25.5H1422" stroke="#c8c8c8" stroke-width="1" shape-rendering="crispEdges"/><text x="1423.5" y="28.5" font-family="Liberation Sans" font-size="9" fill="#d6d6dc">120123.70</text><path d="M1418 57.5H1422" stroke="#c8c8c8" stroke-width="1" shape-rendering="crispEdges"/><text x="1423.5" y="60.5" font-family="Liberation Sans" font-size="9" fill="#d6d6dc">119232.10</text><path d="M1418 89.5H1422" stroke="#c8c8c8" stroke-width="1" shape-rendering="crispEdges"/><text x="1423.5" y="92.5" font-family="Liberation Sans" font-size="9" fill="#d6d6dc">118340.50</text><path d="M1418 121.5H1422" stroke="#c8c8c8" stroke-width="1" shape-rendering="crispEdges"/><text x="1423.5" y="124.5" font-family="Liberation Sans" font-size="9" fill="#d6d6dc">117448.90</text><path d="M1418 153.5H1422" stroke="#c8c8c8" stroke-width="1" shape-rendering="crispEdges"/><text x="1423.5" y="156.5" font-family="Liberation Sans" font-size="9" fill="#d6d6dc">116557.30</text><path d="M1418 185.5H1422" stroke="#c8c8c8" stroke-width="1" shape-rendering="crispEdges"/><text x="1423.5" y="188.5" font-family="Liberation Sans" font-size="9" fill="#d6d6dc">115665.70</text><path d="M1418 217.5H1422" stroke="#c8c8c8" stroke-width="1" shape-rendering="crispEdges"/><text x="1423.5" y="220.5" font-family="Liberation Sans" font-size="9" fill="#d6d6dc">114774.10</text><path d="M1418 249.5H1422" stroke="#c8c8c8" stroke-width="1" shape-rendering="crispEdges"/><text x="1423.5" y="252.5" font-family="Liberation Sans" font-size="9" fill="#d6d6dc">113882.50</text><path d="M1418 281.5H1422" stroke="#c8c8c8" stroke-width="1" shape-rendering="crispEdges"/><text x="1423.5" y="284.5" font-family="Liberation Sans" font-size="9" fill="#d6d6dc">112990.90</text><path d="M1418 313.5H1422" stroke="#c8c8c8" stroke-width="1" shape-rendering="crispEdges"/><text x="1423.5" y="316.5" font-family="Liberation Sans" font-size="9" fill="#d6d6dc">112099.30</text><path d="M1418 345.5H1422" stroke="#c8c8c8" stroke-width="1" shape-rendering="crispEdges"/><text x="1423.5" y="348.5" font-family="Liberation Sans" font-size="9" fill="#d6d6dc">111207.70</text><path d="M1418 377.5H1422" stroke="#c8c8c8" stroke-width="1" shape-rendering="crispEdges"/><text x="1423.5" y="380.5" font-family="Liberation Sans" font-size="9" fill="#d6d6dc">110316.10</text><path d="M1418 409.5H1422" stroke="#c8c8c8" stroke-width="1" shape-rendering="crispEdges"/><text x="1423.5" y="412.5" font-family="Liberation Sans" font-size="9" fill="#d6d6dc">109424.50</text><path d="M1418 441.5H1422" stroke="#c8c8c8" stroke-width="1" shape-rendering="crispEdges"/><text x="1423.5" y="444.5" font-family="Liberation Sans" font-size="9" fill="#d6d6dc">108532.90</text><path d="M1418 473.5H1422" stroke="#c8c8c8" stroke-width="1" shape-rendering="crispEdges"/><text x="1423.5" y="476.5" font-family="Liberation Sans" font-size="9" fill="#d6d6dc">107641.30</text><path d="M1418 505.5H1422" stroke="#c8c8c8" stroke-width="1" shape-rendering="crispEdges"/><text x="1423.5" y="508.5" font-family="Liberation Sans" font-size="9" fill="#d6d6dc">106749.70</text><path d="M1418 537.5H1422" stroke="#c8c8c8" stroke-width="1" shape-rendering="crispEdges"/><text x="1423.5" y="540.5" font-family="Liberation Sans" font-size="9" fill="#d6d6dc">105858.10</text><path d="M1418 569.5H1422" stroke="#c8c8c8" stroke-width="1" shape-rendering="crispEdges"/><text x="1423.5" y="572.5" font-family="Liberation Sans" font-size="9" fill="#d6d6dc">104966.50</text><path d="M1418 601.5H1422" stroke="#c8c8c8" stroke-width="1" shape-rendering="crispEdges"/><text x="1423.5" y="604.5" font-family="Liberation Sans" font-size="9" fill="#d6d6dc">104074.90</text><rect x="1420" y="137.3" width="49" height="10.4" fill="#000"/><text x="1423.5" y="146.1" font-family="Liberation Sans" font-size="9.8" fill="#fff" textLength="42" lengthAdjust="spacingAndGlyphs">116866.52</text><rect x="1420" y="150.3" width="49" height="10.4" fill="#000"/><text x="1423.5" y="159.1" font-family="Liberation Sans" font-size="9.8" fill="#fff" textLength="42" lengthAdjust="spacingAndGlyphs">116502.25</text><rect x="1420" y="163.3" width="49" height="10.4" fill="#000"/><text x="1423.5" y="172.1" font-family="Liberation Sans" font-size="9.8" fill="#fff" textLength="42" lengthAdjust="spacingAndGlyphs">116137.99</text><rect x="1420" y="180.1" width="49" height="10.4" fill="#000"/><text x="1423.5" y="188.9" font-family="Liberation Sans" font-size="9.8" fill="#fff" textLength="42" lengthAdjust="spacingAndGlyphs">115661.98</text><rect x="1420" y="206.3" width="49" height="10.4" fill="#000"/><text x="1423.5" y="215.1" font-family="Liberation Sans" font-size="9.8" fill="#fff" textLength="42" lengthAdjust="spacingAndGlyphs">114933.45</text><rect x="1420" y="215.1" width="49" height="10.4" fill="#000"/><text x="1423.5" y="223.9" font-family="Liberation Sans" font-size="9.8" fill="#fff" textLength="42" lengthAdjust="spacingAndGlyphs">114680.93</text><rect x="1420" y="228.4" width="49" height="10.4" fill="#000"/><text x="1423.5" y="237.2" font-family="Liberation Sans" font-size="9.8" fill="#fff" textLength="42" lengthAdjust="spacingAndGlyphs">114316.66</text><rect x="1420" y="241.3" width="49" height="10.4" fill="#000"/><text x="1423.5" y="250.1" font-family="Liberation Sans" font-size="9.8" fill="#fff" textLength="42" lengthAdjust="spacingAndGlyphs">113952.40</text><rect x="1420" y="189.8" width="49" height="10.4" fill="#ee9422"/><text x="1423.5" y="198.6" font-family="Liberation Sans" font-size="9.8" fill="#fff0e0" textLength="42" lengthAdjust="spacingAndGlyphs">115409.46</text><rect x="1420" y="275.1" width="49" height="10.4" fill="#b0b0b0"/><text x="1423.5" y="283.9" font-family="Liberation Sans" font-size="9.8" fill="#ffffff" textLength="42" lengthAdjust="spacingAndGlyphs">113018.81</text><text x="-0.5" y="645.2" font-family="Liberation Sans" font-size="9.15" fill="#d9d9de">26 Aug 2025</text><path d="M63.5 634V638" stroke="#dcdcdc" stroke-width="1" shape-rendering="crispEdges"/><text x="63.5" y="645.2" font-family="Liberation Sans" font-size="9.15" fill="#d9d9de">27 Aug 20:00</text><path d="M127.5 634V638" stroke="#dcdcdc" stroke-width="1" shape-rendering="crispEdges"/><text x="127.5" y="645.2" font-family="Liberation Sans" font-size="9.15" fill="#d9d9de">29 Aug 04:00</text><path d="M191.5 634V638" stroke="#dcdcdc" stroke-width="1" shape-rendering="crispEdges"/><text x="191.5" y="645.2" font-family="Liberation Sans" font-size="9.15" fill="#d9d9de">30 Aug 12:00</text><path d="M255.5 634V638" stroke="#dcdcdc" stroke-width="1" shape-rendering="crispEdges"/><text x="255.5" y="645.2" font-family="Liberation Sans" font-size="9.15" fill="#d9d9de">31 Aug 20:00</text><path d="M319.5 634V638" stroke="#dcdcdc" stroke-width="1" shape-rendering="crispEdges"/><text x="319.5" y="645.2" font-family="Liberation Sans" font-size="9.15" fill="#d9d9de">2 Sep 04:00</text><path d="M383.5 634V638" stroke="#dcdcdc" stroke-width="1" shape-rendering="crispEdges"/><text x="383.5" y="645.2" font-family="Liberation Sans" font-size="9.15" fill="#d9d9de">3 Sep 12:00</text><path d="M447.5 634V638" stroke="#dcdcdc" stroke-width="1" shape-rendering="crispEdges"/><text x="447.5" y="645.2" font-family="Liberation Sans" font-size="9.15" fill="#d9d9de">4 Sep 20:00</text><path d="M511.5 634V638" stroke="#dcdcdc" stroke-width="1" shape-rendering="crispEdges"/><text x="511.5" y="645.2" font-family="Liberation Sans" font-size="9.15" fill="#d9d9de">6 Sep 04:00</text><path d="M575.5 634V638" stroke="#dcdcdc" stroke-width="1" shape-rendering="crispEdges"/><text x="575.5" y="645.2" font-family="Liberation Sans" font-size="9.15" fill="#d9d9de">7 Sep 12:00</text><path d="M639.5 634V638" stroke="#dcdcdc" stroke-width="1" shape-rendering="crispEdges"/><text x="639.5" y="645.2" font-family="Liberation Sans" font-size="9.15" fill="#d9d9de">8 Sep 20:00</text><path d="M703.5 634V638" stroke="#dcdcdc" stroke-width="1" shape-rendering="crispEdges"/><text x="703.5" y="645.2" font-family="Liberation Sans" font-size="9.15" fill="#d9d9de">10 Sep 04:00</text><path d="M767.5 634V638" stroke="#dcdcdc" stroke-width="1" shape-rendering="crispEdges"/><text x="767.5" y="645.2" font-family="Liberation Sans" font-size="9.15" fill="#d9d9de">11 Sep 12:00</text><path d="M831.5 634V638" stroke="#dcdcdc" stroke-width="1" shape-rendering="crispEdges"/><text x="831.5" y="645.2" font-family="Liberation Sans" font-size="9.15" fill="#d9d9de">12 Sep 20:00</text><path d="M895.5 634V638" stroke="#dcdcdc" stroke-width="1" shape-rendering="crispEdges"/><text x="895.5" y="645.2" font-family="Liberation Sans" font-size="9.15" fill="#d9d9de">14 Sep 04:00</text><path d="M959.5 634V638" stroke="#dcdcdc" stroke-width="1" shape-rendering="crispEdges"/><text x="959.5" y="645.2" font-family="Liberation Sans" font-size="9.15" fill="#d9d9de">15 Sep 12:00</text><path d="M1023.5 634V638" stroke="#dcdcdc" stroke-width="1" shape-rendering="crispEdges"/><text x="1023.5" y="645.2" font-family="Liberation Sans" font-size="9.15" fill="#d9d9de">16 Sep 20:00</text><path d="M1087.5 634V638" stroke="#dcdcdc" stroke-width="1" shape-rendering="crispEdges"/><text x="1087.5" y="645.2" font-family="Liberation Sans" font-size="9.15" fill="#d9d9de">18 Sep 04:00</text><path d="M1151.5 634V638" stroke="#dcdcdc" stroke-width="1" shape-rendering="crispEdges"/><text x="1151.5" y="645.2" font-family="Liberation Sans" font-size="9.15" fill="#d9d9de">19 Sep 12:00</text><path d="M1215.5 634V638" stroke="#dcdcdc" stroke-width="1" shape-rendering="crispEdges"/><text x="1215.5" y="645.2" font-family="Liberation Sans" font-size="9.15" fill="#d9d9de">20 Sep 20:00</text><path d="M1279.5 634V638" stroke="#dcdcdc" stroke-width="1" shape-rendering="crispEdges"/><text x="1279.5" y="645.2" font-family="Liberation Sans" font-size="9.15" fill="#d9d9de">22 Sep 04:00</text><text x="46" y="17.6" font-family="Liberation Sans" font-size="9.7" fill="#d8d8de">BTCUSD, H4:  Bitcoin vs. USD</text><text x="42.5" y="32.5" text-anchor="middle" font-family="Liberation Sans" font-size="9.1" fill="#dcdce2">Sardis Global</text><text x="42.5" y="44" text-anchor="middle" font-family="Liberation Sans" font-size="9.1" fill="#dcdce2">Trading System</text><g><rect x="4.5" y="9.5" width="14" height="10" rx="1" fill="#cdeafb"/><rect x="4.5" y="9.5" width="7" height="10" fill="#fdd3c8"/><path d="M11.5 9.5H5.5Q4.5 9.5 4.5 10.5V18.5Q4.5 19.5 5.5 19.5H11.5" fill="none" stroke="#8c4636"/><path d="M11.5 9.5H17.5Q18.5 9.5 18.5 10.5V18.5Q18.5 19.5 17.5 19.5H11.5" fill="none" stroke="#1f4868"/><path d="M6 11.5H10M6 14.5H10M6 17.5H10" stroke="#9a4a3a"/><path d="M12 11.5H17M12 14.5H17M12 17.5H17" stroke="#1f4868"/><path d="M25.5 9.5H28.5V14.5H31.5V19.5H25.5Z" fill="#fdd3c8" stroke="#8c4636" stroke-linejoin="round"/><path d="M36.5 9.5H39.5V19.5H33.5V14.5H36.5Z" fill="#cdeafb" stroke="#1f4868" stroke-linejoin="round"/><rect x="30.5" y="10" width="4" height="1.8" rx="0.8" fill="#fff" stroke="#909090" stroke-width="0.8"/></g><path d="M907 4H916L911.5 9.5Z" fill="#a8a8a8"/></svg>
</body></html>
